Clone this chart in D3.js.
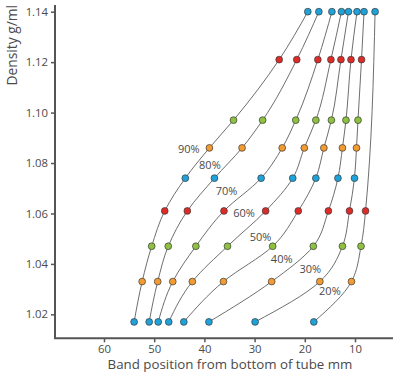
<!DOCTYPE html>
<html>
<head>
<meta charset="utf-8">
<script src="https://cdn.jsdelivr.net/npm/d3@7"></script>
<style>
  html, body { margin: 0; padding: 0; background: #fff; }
  svg { display: block; font-family: "Open Sans", "Noto Sans", sans-serif; }
</style>
</head>
<body>
<svg id="chart" width="401" height="375"></svg>
<script>
// ---- data ----
// density levels of the marker beads (g/ml)
const densities = [1.017, 1.033, 1.047, 1.061, 1.074, 1.086, 1.097, 1.121, 1.140];
// bead colour per density level
const beadColors = ["#1fa2da", "#f29b33", "#8dc13f", "#dd2c28", "#1fa2da", "#f29b33", "#8dc13f", "#dd2c28", "#1fa2da"];
// curve labels
const curveLabels = ["90%", "80%", "70%", "60%", "50%", "40%", "30%", "20%"];
// band position (mm) per curve, one value per density level (null = no bead)
const pos90 = [54.0, 52.4, 50.5, 47.9, 43.8, 39.0, 34.2, 25.1, 19.4];
const pos80 = [51.0, 49.3, 47.2, 43.4, 38.0, 32.5, 28.4, 21.6, 17.2];
const pos70 = [49.2, 46.3, 41.7, 36.1, 28.7, 24.5, 21.8, 17.4, 14.6];
const pos60 = [47.1, 42.4, 35.4, 27.8, 22.4, 20.1, 17.8, 14.8, 12.7];
const pos50 = [44.1, 36.2, 26.4, 21.3, 17.8, 16.2, 14.7, 12.8, 11.3];
const pos40 = [39.1, 26.6, 18.3, 15.3, 13.4, 12.5, 11.8, 10.8, 9.6];
const pos30 = [29.9, 17.0, 12.5, 11.1, 10.1, 9.7, 9.4, 8.7, 8.2];
const pos20 = [18.2, 10.7, 8.8, 7.9, null, null, null, null, 6.0];
const series = [pos90, pos80, pos70, pos60, pos50, pos40, pos30, pos20];
// label anchors (mm, g/ml)
const labelMm = [43.1, 38.9, 35.6, 32.1, 28.8, 24.6, 18.9, 15.0];
const labelDensity = [1.0856, 1.0792, 1.0689, 1.0601, 1.0508, 1.0419, 1.0378, 1.0290];
// ticks
const xTicks = [60, 50, 40, 30, 20, 10];
const yTicks = [1.02, 1.04, 1.06, 1.08, 1.10, 1.12, 1.14];

// ---- layout ----
const svg = d3.select("#chart");
const mLeft = 55, mRight = 393, mTop = 5, mBottom = 338.3;
const x = d3.scaleLinear().domain([69.76, 2.43]).range([mLeft, mRight]);
const y = d3.scaleLinear().domain([1.0105, 1.14266]).range([mBottom, mTop]);

const axisColor = "#555";
const textColor = "#4a4a4a";

// lines
const line = d3.line()
  .x(d => x(d.mm))
  .y(d => y(d.d))
  .curve(d3.curveMonotoneY);

const curves = series.map((vals, i) => ({
  label: curveLabels[i],
  pts: vals.map((v, j) => ({ mm: v, d: densities[j], c: beadColors[j] })).filter(p => p.mm != null)
}));

svg.append("g").selectAll("path").data(curves).join("path")
  .attr("d", c => line(c.pts))
  .attr("fill", "none")
  .attr("stroke", "#5e5e5e")
  .attr("stroke-width", 0.9);

// points
svg.append("g").selectAll("g").data(curves).join("g")
  .selectAll("circle").data(c => c.pts).join("circle")
  .attr("cx", p => x(p.mm))
  .attr("cy", p => y(p.d))
  .attr("r", 3.4)
  .attr("fill", p => p.c)
  .attr("stroke", "#3a3a3a")
  .attr("stroke-width", 0.7);

// labels
svg.append("g").selectAll("text").data(curveLabels).join("text")
  .attr("x", (t, i) => x(labelMm[i]))
  .attr("y", (t, i) => y(labelDensity[i]))
  .attr("dy", "0.35em")
  .attr("text-anchor", "middle")
  .attr("font-size", 11)
  .attr("fill", textColor)
  .text(t => t);

// axes
const xAxis = svg.append("g").attr("transform", `translate(0,${mBottom})`)
  .call(d3.axisBottom(x).tickValues(xTicks).tickSize(4).tickPadding(3).tickFormat(d3.format("d")));
const yAxis = svg.append("g").attr("transform", `translate(${mLeft},0)`)
  .call(d3.axisLeft(y).tickValues(yTicks).tickSize(4).tickPadding(3).tickFormat(d3.format(".2f")));

[xAxis, yAxis].forEach(g => {
  g.select(".domain").remove();
  g.selectAll(".tick line").attr("stroke", axisColor).attr("stroke-width", 1.5);
  g.selectAll(".tick text").attr("fill", textColor).attr("font-size", 11.3)
    .attr("font-family", "'Open Sans', sans-serif");
});
// axis lines (L-shaped frame)
svg.append("path")
  .attr("d", `M${mLeft},${mTop}V${mBottom}H${mRight}`)
  .attr("fill", "none")
  .attr("stroke", axisColor)
  .attr("stroke-width", 2);

// axis titles
svg.append("text")
  .attr("x", (mLeft + mRight) / 2 + 6)
  .attr("y", 369)
  .attr("text-anchor", "middle")
  .attr("font-size", 13.3)
  .attr("fill", textColor)
  .text("Band position from bottom of tube mm");

svg.append("text")
  .attr("transform", `translate(17,5) rotate(-90)`)
  .attr("text-anchor", "end")
  .attr("font-size", 13.8)
  .attr("fill", textColor)
  .text("Density g/ml");
</script>
</body>
</html>
